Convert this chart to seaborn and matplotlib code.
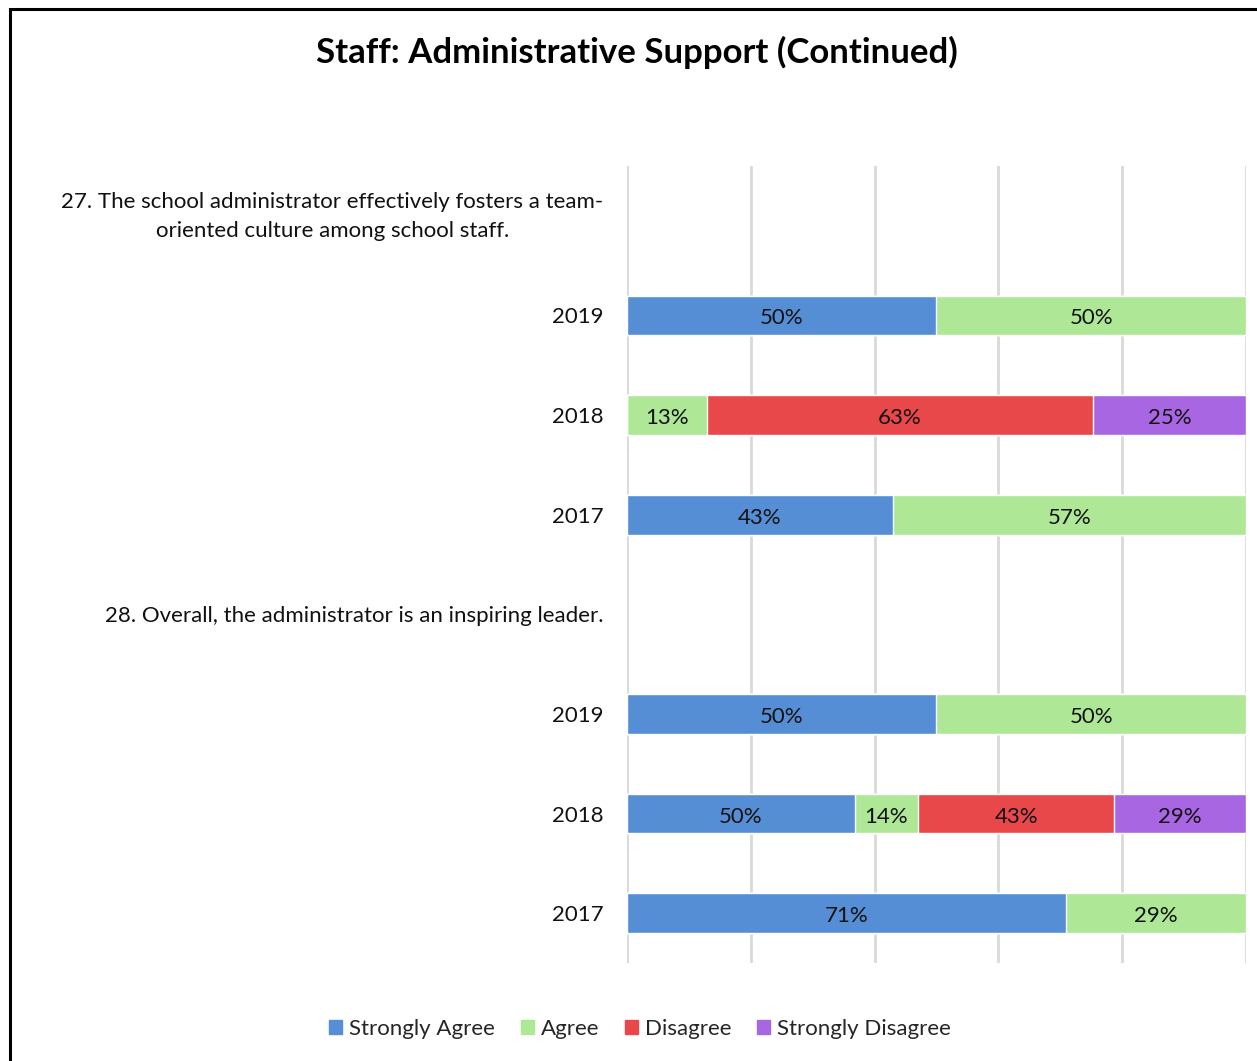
import matplotlib
matplotlib.use("Agg")
import matplotlib.pyplot as plt
import matplotlib.patches as mpatches
from matplotlib.transforms import ScaledTranslation
import numpy as np
import pandas as pd
import seaborn as sns

# Survey responses (percent of respondents), one row per question/year
row_keys = ["q27", "q27_2019", "q27_2018", "q27_2017",
            "q28", "q28_2019", "q28_2018", "q28_2017"]
row_labels = ["27. The school administrator effectively fosters a team-\noriented culture among school staff.",
              "2019", "2018", "2017",
              "28. Overall, the administrator is an inspiring leader.",
              "2019", "2018", "2017"]
responses = ["Strongly Agree", "Agree", "Disagree", "Strongly Disagree"]
strongly_agree =    [0, 50, 0, 43, 0, 50, 50, 71]
agree =             [0, 50, 13, 57, 0, 50, 14, 29]
disagree =          [0, 0, 63, 0, 0, 0, 43, 0]
strongly_disagree = [0, 0, 25, 0, 0, 0, 29, 0]
colors = ["#558ED5", "#AEE796", "#E8484A", "#A866E3"]

FONT = "Lato"
FS = 16

sns.set_theme(style="white")
plt.rcParams["font.family"] = [FONT, "DejaVu Sans"]

vals = np.array([strongly_agree, agree, disagree, strongly_disagree], dtype=float)
totals = vals.sum(axis=0)
share = np.divide(vals, totals, out=np.zeros_like(vals), where=totals > 0)
cum = np.cumsum(share, axis=0)
# question header rows carry no bars
cum_plot = np.where(totals > 0, cum, np.nan)

fig = plt.figure(figsize=(12.57, 10.61), dpi=100)
ax = fig.add_axes([0.4988, 0.0924, 0.4924, 0.7511])

# Stacked 100% bars: draw cumulative extents from the outermost segment inwards
for i in range(len(responses) - 1, -1, -1):
    df = pd.DataFrame({"row": row_keys, "end": cum_plot[i]})
    sns.barplot(data=df, x="end", y="row", order=row_keys, orient="h",
                color=colors[i], saturation=1, width=0.4,
                edgecolor="white", linewidth=1.0, ax=ax, zorder=3)

# Value labels centered on each segment
for i in range(len(responses)):
    for r in range(len(row_keys)):
        v = vals[i, r]
        if v > 0:
            start = cum[i, r] - share[i, r]
            ax.text(start + share[i, r] / 2, r + 0.03, f"{int(v)}%", ha="center",
                    va="center", fontsize=FS, color="#111111", zorder=5)

ax.set_xlim(0, 1)
ax.set_ylim(len(row_keys) - 0.5, -0.5)
ax.set_xticks(np.linspace(0, 1, 6))
ax.set_xticklabels([])
ax.xaxis.grid(True, color="#D9D9D9", linewidth=2, zorder=0)
ax.set_axisbelow(True)
for s in ax.spines.values():
    s.set_visible(False)
ax.set_xlabel("")
ax.set_ylabel("")
ax.set_yticks(range(len(row_keys)))
ax.set_yticklabels(row_labels, fontsize=FS, color="#111111",
                   multialignment="center", linespacing=1.55)
ax.tick_params(axis="y", length=0, pad=17)
ax.tick_params(axis="x", length=0)
# lift the two-line question header slightly
for lbl in ax.get_yticklabels():
    if "\n" in lbl.get_text():
        lbl.set_transform(lbl.get_transform()
                          + ScaledTranslation(0, 0.06, fig.dpi_scale_trans))

fig.suptitle("Staff: Administrative Support (Continued)", x=0.5065, y=0.951,
             va="center", fontsize=25, fontweight="bold", color="black")

handles = [mpatches.Patch(color=c, label=l) for c, l in zip(colors, responses)]
fig.legend(handles=handles, loc="center", bbox_to_anchor=(0.509, 0.030),
           ncol=4, frameon=False, fontsize=FS, handlelength=0.6,
           handleheight=0.6, handletextpad=0.3, columnspacing=1.15)

# Outer chart frame
fig.add_artist(mpatches.Rectangle((10 / 1257, -0.05), 1.2, 1 - 9 / 1061 + 0.05,
                                  transform=fig.transFigure, fill=False,
                                  edgecolor="black", linewidth=2.2))

fig.savefig("out.png", dpi=100)
